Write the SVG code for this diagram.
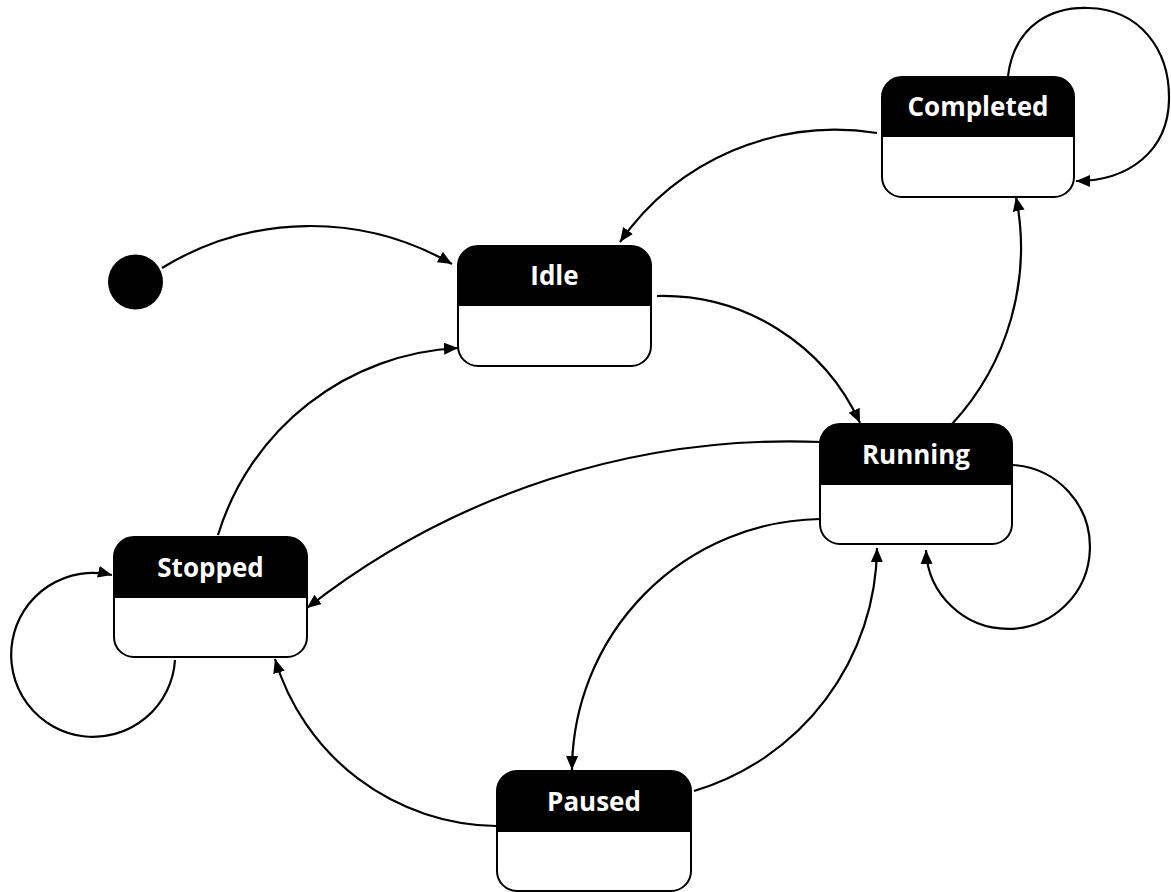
<svg xmlns="http://www.w3.org/2000/svg" width="1171" height="892" viewBox="0 0 1171 892">
<style>
.box{fill:#fff;stroke:#000;stroke-width:2}
.hdr{fill:#000}
.lbl{fill:#fff;font-family:"Open Sans","Liberation Sans",sans-serif;font-weight:bold;font-size:26px;text-anchor:middle}
.edge{fill:none;stroke:#000;stroke-width:2.2;marker-end:url(#arr)}
</style>
<defs>
<marker id="arr" markerUnits="userSpaceOnUse" markerWidth="15" markerHeight="13" refX="14" refY="6" orient="auto">
<path d="M0,0 L14,6 L0,12 z" fill="#000"/>
</marker>
</defs>
<rect width="1171" height="892" fill="#fff"/>
<g id="connectors">
<path class="edge" d="M162,268 A283,283 0 0 1 452,264"/>
<path class="edge" d="M877,133 A263,263 0 0 0 620,242"/>
<path class="edge" d="M657,296 A217,217 0 0 1 860,423"/>
<path class="edge" d="M952,424 A260,260 0 0 0 1016,197"/>
<path class="edge" d="M1008,76 C1015,22 1055,7 1088,8 C1140,9 1170,50 1169,100 C1168,150 1130,181 1076,181"/>
<path class="edge" d="M821,442 A783,783 0 0 0 307,608"/>
<path class="edge" d="M820,519 A252,252 0 0 0 572,770"/>
<path class="edge" d="M694,791 A256,256 0 0 0 877,548"/>
<path class="edge" d="M1013,465 A82,82 0 1 1 926,550"/>
<path class="edge" d="M218,535 A265,265 0 0 1 458,348"/>
<path class="edge" d="M496,826 A234,234 0 0 1 275,659"/>
<path class="edge" d="M175,660 A82,82 0 1 1 112,575"/>
</g>
<g id="initial">
<circle cx="135.5" cy="282" r="27.5" fill="#000"/>
</g>
<g id="completed">
<rect class="box" x="882" y="77" width="192" height="120" rx="20"/>
<path class="hdr" d="M882,137 V97 A20,20 0 0 1 902,77 H1054 A20,20 0 0 1 1074,97 V137 Z"/>
<text class="lbl" x="978" y="116">Completed</text>
</g>
<g id="idle">
<rect class="box" x="458" y="246" width="193" height="120" rx="20"/>
<path class="hdr" d="M458,306 V266 A20,20 0 0 1 478,246 H631 A20,20 0 0 1 651,266 V306 Z"/>
<text class="lbl" x="554.5" y="285">Idle</text>
</g>
<g id="running">
<rect class="box" x="820" y="424" width="192" height="120" rx="20"/>
<path class="hdr" d="M820,485 V444 A20,20 0 0 1 840,424 H992 A20,20 0 0 1 1012,444 V485 Z"/>
<text class="lbl" x="916" y="463.5">Running</text>
</g>
<g id="stopped">
<rect class="box" x="114" y="537" width="193" height="120" rx="20"/>
<path class="hdr" d="M114,598 V557 A20,20 0 0 1 134,537 H287 A20,20 0 0 1 307,557 V598 Z"/>
<text class="lbl" x="210.5" y="576.5">Stopped</text>
</g>
<g id="paused">
<rect class="box" x="497" y="771" width="194" height="120" rx="20"/>
<path class="hdr" d="M497,832 V791 A20,20 0 0 1 517,771 H671 A20,20 0 0 1 691,791 V832 Z"/>
<text class="lbl" x="594" y="810.5">Paused</text>
</g>
</svg>
